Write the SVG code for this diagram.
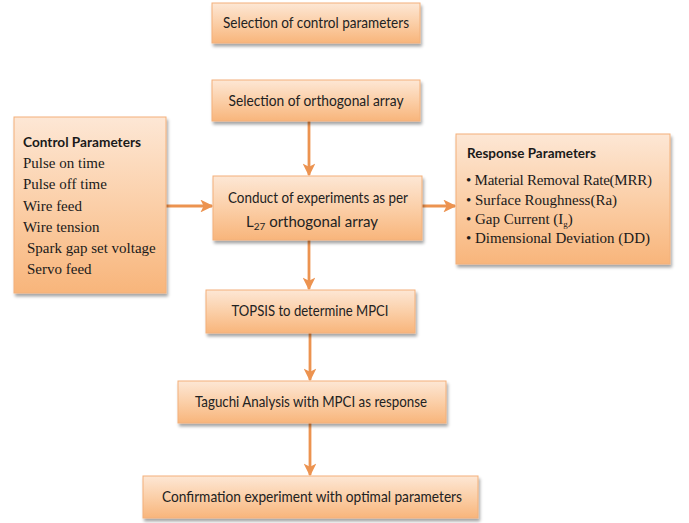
<svg xmlns="http://www.w3.org/2000/svg" width="689" height="523" viewBox="0 0 689 523">
<defs>
<linearGradient id="g" x1="0" y1="0" x2="0" y2="1">
<stop offset="0" stop-color="#fde7d5"/>
<stop offset="0.5" stop-color="#fbcfa8"/>
<stop offset="1" stop-color="#f8b57b"/>
</linearGradient>
<filter id="sh" x="-10%" y="-10%" width="120%" height="130%">
<feDropShadow dx="1.5" dy="3" stdDeviation="1.8" flood-color="#000" flood-opacity="0.35"/>
</filter>
<marker id="ah" viewBox="0 0 10 10" refX="9" refY="5" markerWidth="4.6" markerHeight="4.6" orient="auto" markerUnits="strokeWidth">
<path d="M0,0 L10,5 L0,10 L2.5,5 z" fill="#ec9350"/>
</marker>
</defs>
<style>
.box{fill:url(#g);stroke:#f3b07a;stroke-width:1;filter:url(#sh)}
.t{font-family:Lato,"Open Sans",sans-serif;font-size:15px;fill:#222;text-anchor:middle}
.b{font-family:Lato,"Open Sans",sans-serif;font-size:14px;font-weight:bold;fill:#1a1a1a}
.s{font-family:"Liberation Serif","Times New Roman",serif;font-size:15px;fill:#1a1a1a}
.c{fill:none;stroke:#ec9350;stroke-width:2.8;marker-end:url(#ah)}
</style>
<rect width="689" height="523" fill="#fff"/>
<g id="connectors">
<line class="c" x1="309" y1="121" x2="309" y2="175"/>
<line class="c" x1="166" y1="206" x2="212" y2="206"/>
<line class="c" x1="422" y1="206" x2="455" y2="206"/>
<line class="c" x1="309" y1="240" x2="309" y2="289"/>
<line class="c" x1="310" y1="333" x2="310" y2="380"/>
<line class="c" x1="310" y1="423" x2="310" y2="475"/>
</g>
<g id="n1">
<rect class="box" x="212" y="3" width="208" height="40"/>
<text class="t" x="316" y="28" textLength="186" lengthAdjust="spacingAndGlyphs">Selection of control parameters</text>
</g>
<g id="n2">
<rect class="box" x="212" y="80" width="208" height="41"/>
<text class="t" x="316" y="106" textLength="175" lengthAdjust="spacingAndGlyphs">Selection of orthogonal array</text>
</g>
<g id="n3">
<rect class="box" x="213" y="176" width="209" height="64"/>
<text class="t" x="318" y="203" textLength="180" lengthAdjust="spacingAndGlyphs">Conduct of experiments as per</text>
<text class="t" x="312" y="227">L<tspan font-size="10" dy="3">27</tspan><tspan dy="-3"> orthogonal array</tspan></text>
</g>
<g id="n4">
<rect class="box" x="14" y="117" width="152" height="176"/>
<text class="b" x="23" y="147" textLength="118" lengthAdjust="spacingAndGlyphs">Control Parameters</text>
<text class="s" x="23" y="168">Pulse on time</text>
<text class="s" x="23" y="189">Pulse off time</text>
<text class="s" x="23" y="211">Wire feed</text>
<text class="s" x="23" y="232">Wire tension</text>
<text class="s" x="27" y="253">Spark gap set voltage</text>
<text class="s" x="27" y="274">Servo feed</text>
</g>
<g id="n5">
<rect class="box" x="456" y="134" width="214" height="130"/>
<text class="b" x="467" y="158" textLength="129" lengthAdjust="spacingAndGlyphs">Response Parameters</text>
<text class="s" x="466" y="185" textLength="186">• Material Removal Rate(MRR)</text>
<text class="s" x="466" y="205">• Surface Roughness(Ra)</text>
<text class="s" x="466" y="224">• Gap Current (I<tspan font-size="9" dy="3">g</tspan><tspan dy="-3">)</tspan></text>
<text class="s" x="466" y="243">• Dimensional Deviation (DD)</text>
</g>
<g id="n6">
<rect class="box" x="206" y="290" width="209" height="43"/>
<text class="t" x="310" y="316" textLength="157" lengthAdjust="spacingAndGlyphs">TOPSIS to determine MPCI</text>
</g>
<g id="n7">
<rect class="box" x="178" y="381" width="268" height="42"/>
<text class="t" x="311" y="407" textLength="232" lengthAdjust="spacingAndGlyphs">Taguchi Analysis with MPCI as response</text>
</g>
<g id="n8">
<rect class="box" x="143" y="476" width="335" height="42"/>
<text class="t" x="312" y="502" textLength="300" lengthAdjust="spacingAndGlyphs">Confirmation experiment with optimal parameters</text>
</g>
</svg>
